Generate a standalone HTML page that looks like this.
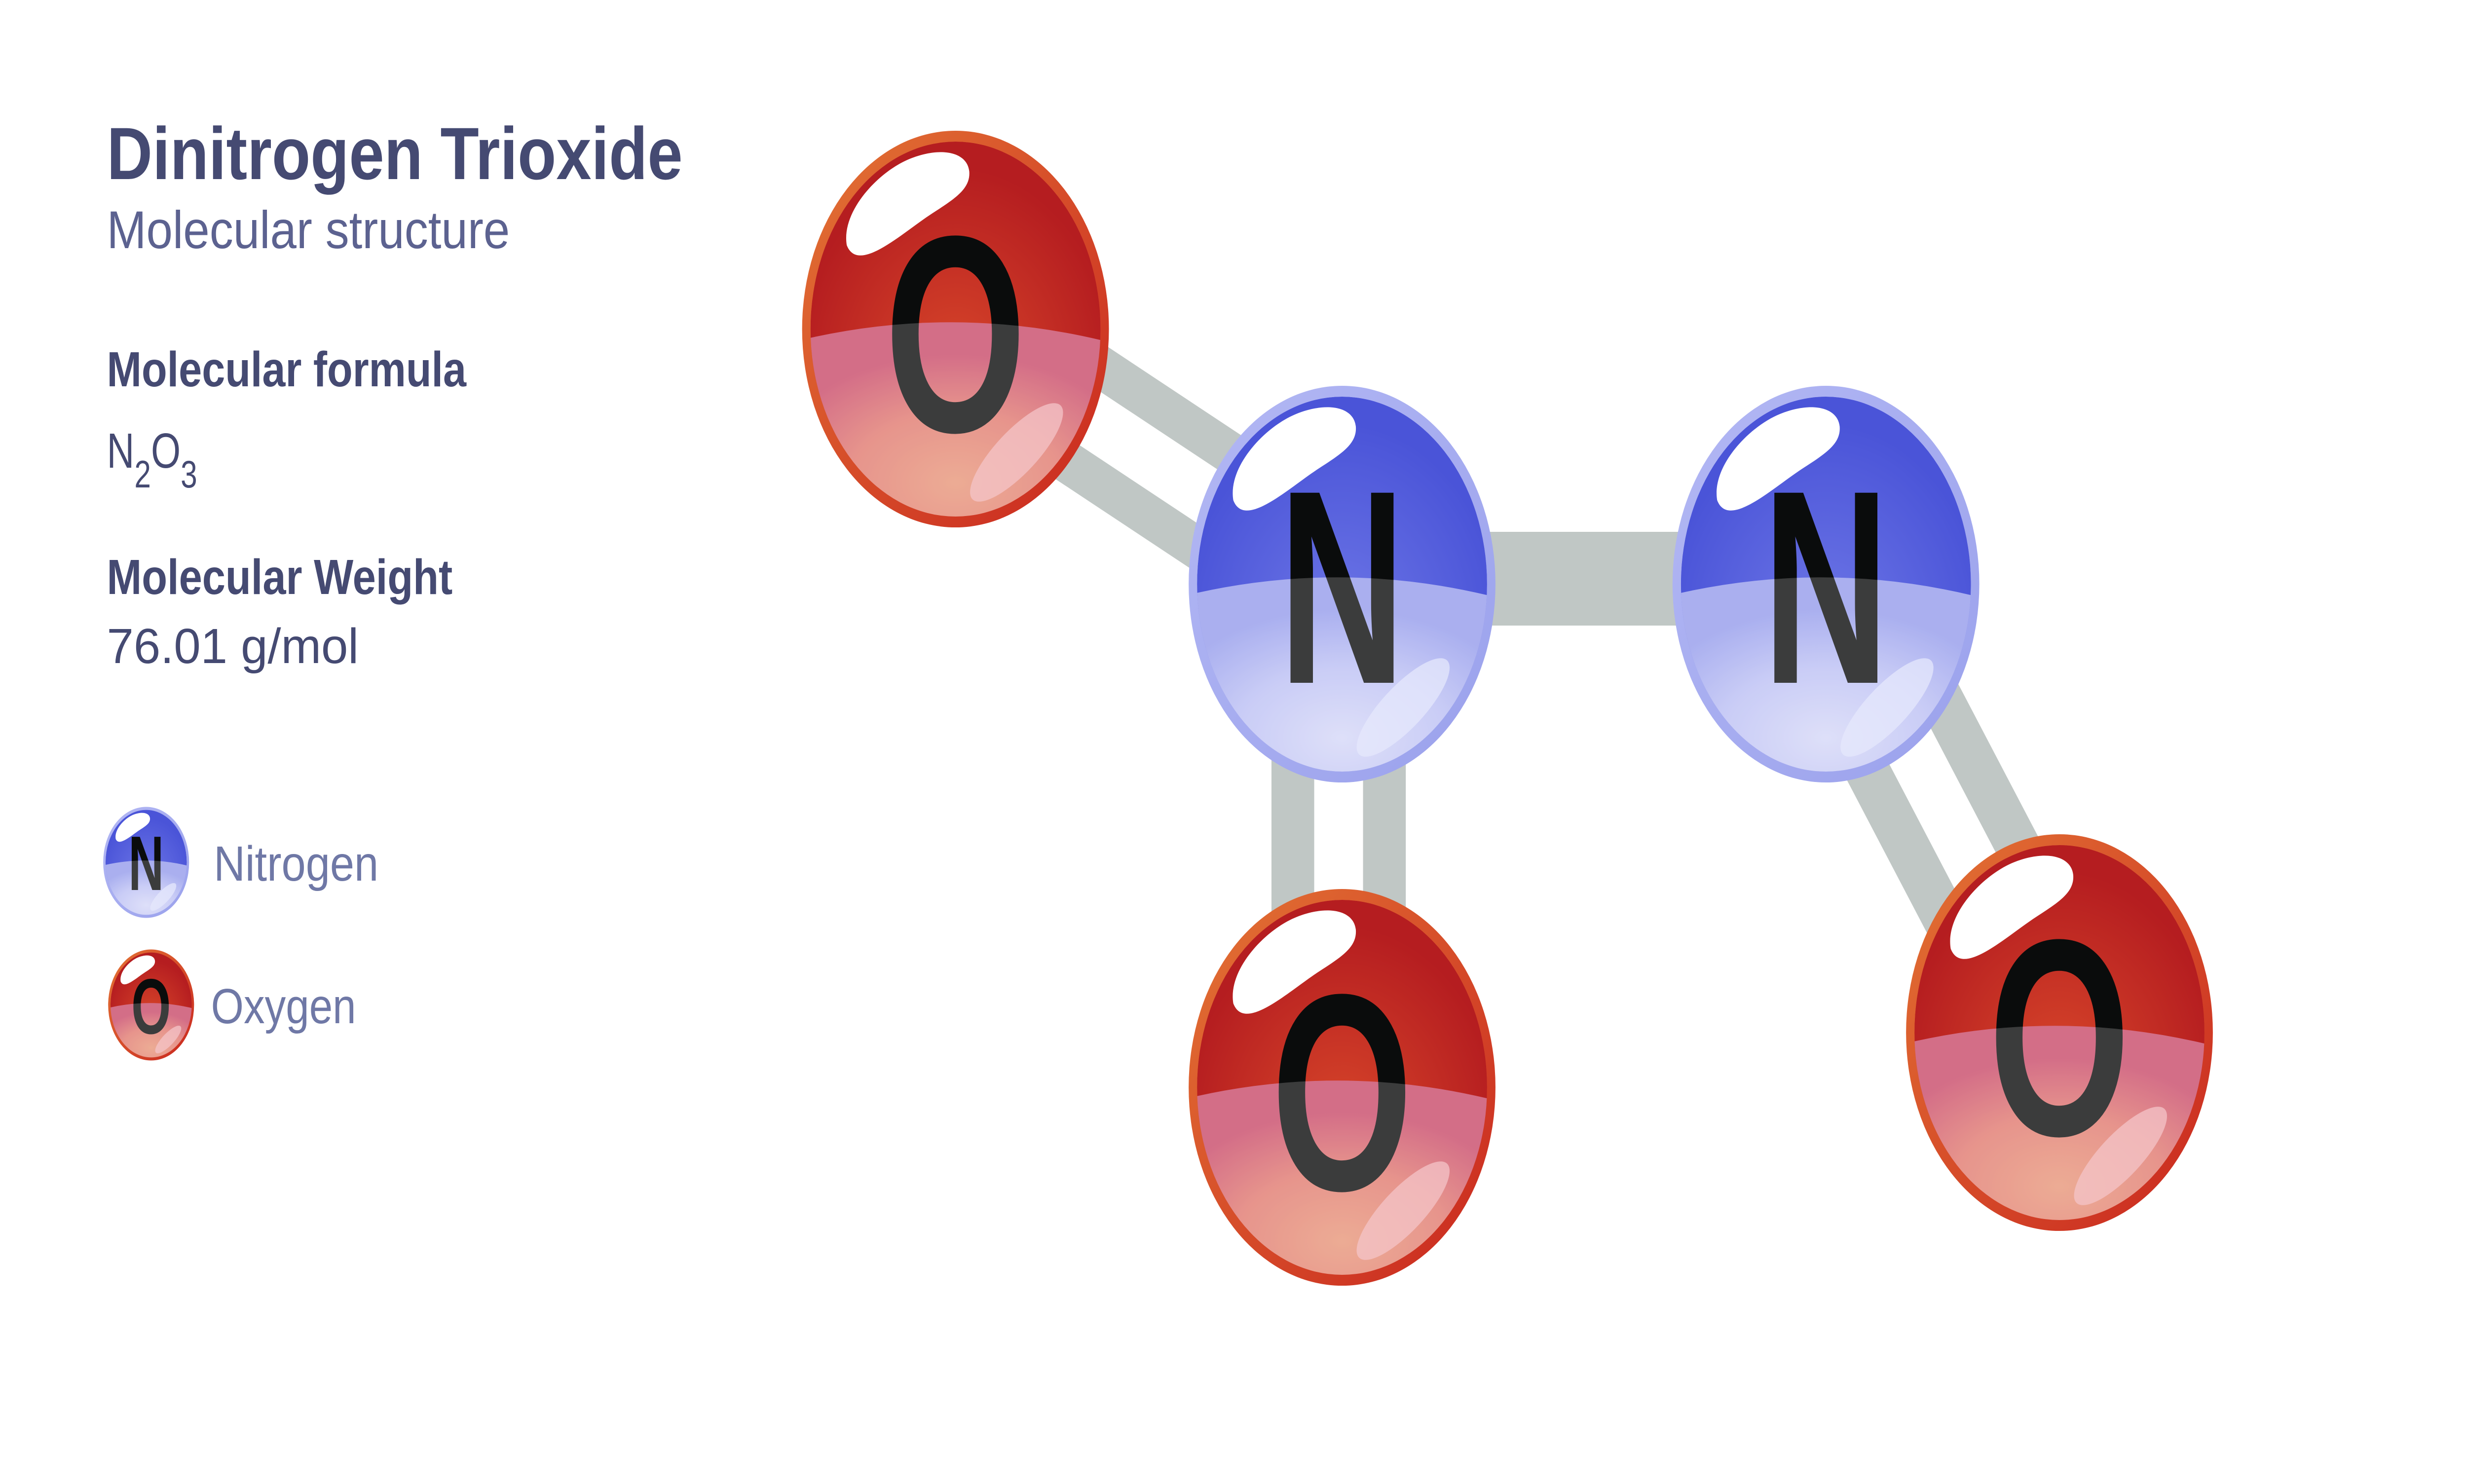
<!DOCTYPE html>
<html><head><meta charset="utf-8"><style>
html,body{margin:0;padding:0;background:#fff;width:100%;height:100%;overflow:hidden}
svg{display:block;width:100vw;height:100vh}
</style></head><body>
<svg viewBox="0 0 6465 3008" preserveAspectRatio="none" xmlns="http://www.w3.org/2000/svg">
<defs>
<linearGradient id="oRing" x1="0" y1="0" x2="1" y2="1"><stop offset="0" stop-color="#e37434"/><stop offset="1" stop-color="#c9261f"/></linearGradient>
<radialGradient id="oTop" cx="0.5" cy="0.62" r="0.55"><stop offset="0" stop-color="#d8472a"/><stop offset="1" stop-color="#b51d20"/></radialGradient>
<radialGradient id="oLow" cx="0.5" cy="0.75" r="0.6"><stop offset="0" stop-color="#e8977a"/><stop offset="0.55" stop-color="#e17a70"/><stop offset="1" stop-color="#c94a6a"/></radialGradient>
<linearGradient id="nRing" x1="0" y1="0" x2="1" y2="1"><stop offset="0" stop-color="#b3b8f4"/><stop offset="1" stop-color="#9aa1ec"/></linearGradient>
<radialGradient id="nTop" cx="0.5" cy="0.62" r="0.55"><stop offset="0" stop-color="#6d76e6"/><stop offset="1" stop-color="#4a54d8"/></radialGradient>
<radialGradient id="nLow" cx="0.5" cy="0.75" r="0.6"><stop offset="0" stop-color="#d6d8f8"/><stop offset="0.55" stop-color="#bcc0f4"/><stop offset="1" stop-color="#959cec"/></radialGradient>
<clipPath id="inner"><circle cx="0" cy="0" r="380"/></clipPath>
</defs>

<g stroke="#c0c7c5" stroke-linecap="butt" fill="none">
  <line x1="2551" y1="573" x2="3565" y2="1093" stroke-width="90"/>
  <line x1="2455" y1="761" x2="3469" y2="1281" stroke-width="90"/>
  <line x1="3517" y1="1173" x2="4785" y2="1173" stroke-width="190"/>
  <line x1="3388" y1="1184" x2="3388" y2="2204" stroke-width="112"/>
  <line x1="3628" y1="1184" x2="3628" y2="2204" stroke-width="112"/>
  <line x1="4885" y1="1120" x2="5499" y2="2027" stroke-width="110"/>
  <line x1="4685" y1="1254" x2="5299" y2="2161" stroke-width="110"/>
</g>

<g transform="translate(2504,667)">
  <circle r="402" fill="url(#oRing)"/>
  <g clip-path="url(#inner)">
    <circle r="380" fill="url(#oTop)"/>
    <path d="M-420,25 Q0,-55 420,30 L420,420 L-420,420 Z" fill="url(#oLow)"/>
    <text x="0" y="207" text-anchor="middle" font-family="Liberation Sans, sans-serif" font-weight="bold" font-size="568" fill="#0a0c0c" transform="scale(0.84,1)">O</text>
    <path d="M-420,25 Q0,-55 420,30 L420,420 L-420,420 Z" fill="#ffffff" opacity="0.2"/>
    <path d="M-285,-170 C-300,-240 -200,-320 -120,-345 C-40,-370 30,-360 36,-320 C40,-285 0,-265 -60,-235 C-140,-195 -255,-110 -285,-170 Z" fill="#fff"/>
    <ellipse cx="160" cy="250" rx="150" ry="48" transform="rotate(-38 160 250)" fill="#f4c4c8" opacity="0.75"/>
  </g>
</g>
<g transform="translate(3517,2204)">
  <circle r="402" fill="url(#oRing)"/>
  <g clip-path="url(#inner)">
    <circle r="380" fill="url(#oTop)"/>
    <path d="M-420,25 Q0,-55 420,30 L420,420 L-420,420 Z" fill="url(#oLow)"/>
    <text x="0" y="207" text-anchor="middle" font-family="Liberation Sans, sans-serif" font-weight="bold" font-size="568" fill="#0a0c0c" transform="scale(0.84,1)">O</text>
    <path d="M-420,25 Q0,-55 420,30 L420,420 L-420,420 Z" fill="#ffffff" opacity="0.2"/>
    <path d="M-285,-170 C-300,-240 -200,-320 -120,-345 C-40,-370 30,-360 36,-320 C40,-285 0,-265 -60,-235 C-140,-195 -255,-110 -285,-170 Z" fill="#fff"/>
    <ellipse cx="160" cy="250" rx="150" ry="48" transform="rotate(-38 160 250)" fill="#f4c4c8" opacity="0.75"/>
  </g>
</g>
<g transform="translate(5397,2093)">
  <circle r="402" fill="url(#oRing)"/>
  <g clip-path="url(#inner)">
    <circle r="380" fill="url(#oTop)"/>
    <path d="M-420,25 Q0,-55 420,30 L420,420 L-420,420 Z" fill="url(#oLow)"/>
    <text x="0" y="207" text-anchor="middle" font-family="Liberation Sans, sans-serif" font-weight="bold" font-size="568" fill="#0a0c0c" transform="scale(0.84,1)">O</text>
    <path d="M-420,25 Q0,-55 420,30 L420,420 L-420,420 Z" fill="#ffffff" opacity="0.2"/>
    <path d="M-285,-170 C-300,-240 -200,-320 -120,-345 C-40,-370 30,-360 36,-320 C40,-285 0,-265 -60,-235 C-140,-195 -255,-110 -285,-170 Z" fill="#fff"/>
    <ellipse cx="160" cy="250" rx="150" ry="48" transform="rotate(-38 160 250)" fill="#f4c4c8" opacity="0.75"/>
  </g>
</g>

<g transform="translate(3517,1184)">
  <circle r="402" fill="url(#nRing)"/>
  <g clip-path="url(#inner)">
    <circle r="380" fill="url(#nTop)"/>
    <path d="M-420,25 Q0,-55 420,30 L420,420 L-420,420 Z" fill="url(#nLow)"/>
    <text x="0" y="200" text-anchor="middle" font-family="Liberation Sans, sans-serif" font-weight="bold" font-size="560" fill="#0a0c0c" transform="scale(0.82,1)">N</text>
    <path d="M-420,25 Q0,-55 420,30 L420,420 L-420,420 Z" fill="#ffffff" opacity="0.2"/>
    <path d="M-285,-170 C-300,-240 -200,-320 -120,-345 C-40,-370 30,-360 36,-320 C40,-285 0,-265 -60,-235 C-140,-195 -255,-110 -285,-170 Z" fill="#fff"/>
    <ellipse cx="160" cy="250" rx="150" ry="48" transform="rotate(-38 160 250)" fill="#e6e8fc" opacity="0.75"/>
  </g>
</g>
<g transform="translate(4785,1184)">
  <circle r="402" fill="url(#nRing)"/>
  <g clip-path="url(#inner)">
    <circle r="380" fill="url(#nTop)"/>
    <path d="M-420,25 Q0,-55 420,30 L420,420 L-420,420 Z" fill="url(#nLow)"/>
    <text x="0" y="200" text-anchor="middle" font-family="Liberation Sans, sans-serif" font-weight="bold" font-size="560" fill="#0a0c0c" transform="scale(0.82,1)">N</text>
    <path d="M-420,25 Q0,-55 420,30 L420,420 L-420,420 Z" fill="#ffffff" opacity="0.2"/>
    <path d="M-285,-170 C-300,-240 -200,-320 -120,-345 C-40,-370 30,-360 36,-320 C40,-285 0,-265 -60,-235 C-140,-195 -255,-110 -285,-170 Z" fill="#fff"/>
    <ellipse cx="160" cy="250" rx="150" ry="48" transform="rotate(-38 160 250)" fill="#e6e8fc" opacity="0.75"/>
  </g>
</g>

<g transform="translate(383,1748) scale(0.28)">
  <circle r="402" fill="url(#nRing)"/>
  <g clip-path="url(#inner)">
    <circle r="380" fill="url(#nTop)"/>
    <path d="M-420,25 Q0,-55 420,30 L420,420 L-420,420 Z" fill="url(#nLow)"/>
    <text x="0" y="200" text-anchor="middle" font-family="Liberation Sans, sans-serif" font-weight="bold" font-size="560" fill="#0a0c0c" transform="scale(0.82,1)">N</text>
    <path d="M-420,25 Q0,-55 420,30 L420,420 L-420,420 Z" fill="#ffffff" opacity="0.2"/>
    <path d="M-285,-170 C-300,-240 -200,-320 -120,-345 C-40,-370 30,-360 36,-320 C40,-285 0,-265 -60,-235 C-140,-195 -255,-110 -285,-170 Z" fill="#fff"/>
    <ellipse cx="160" cy="250" rx="150" ry="48" transform="rotate(-38 160 250)" fill="#e6e8fc" opacity="0.75"/>
  </g>
</g>
<g transform="translate(396,2037) scale(0.28)">
  <circle r="402" fill="url(#oRing)"/>
  <g clip-path="url(#inner)">
    <circle r="380" fill="url(#oTop)"/>
    <path d="M-420,25 Q0,-55 420,30 L420,420 L-420,420 Z" fill="url(#oLow)"/>
    <text x="0" y="207" text-anchor="middle" font-family="Liberation Sans, sans-serif" font-weight="bold" font-size="568" fill="#0a0c0c" transform="scale(0.84,1)">O</text>
    <path d="M-420,25 Q0,-55 420,30 L420,420 L-420,420 Z" fill="#ffffff" opacity="0.2"/>
    <path d="M-285,-170 C-300,-240 -200,-320 -120,-345 C-40,-370 30,-360 36,-320 C40,-285 0,-265 -60,-235 C-140,-195 -255,-110 -285,-170 Z" fill="#fff"/>
    <ellipse cx="160" cy="250" rx="150" ry="48" transform="rotate(-38 160 250)" fill="#f4c4c8" opacity="0.75"/>
  </g>
</g>

<g font-family="Liberation Sans, sans-serif">
  <text x="280" y="363" font-size="150" font-weight="bold" fill="#454a72" textLength="1509" lengthAdjust="spacingAndGlyphs">Dinitrogen Trioxide</text>
  <text x="280" y="503" font-size="108" fill="#5c6290" textLength="1056" lengthAdjust="spacingAndGlyphs">Molecular structure</text>
  <text x="280" y="783" font-size="100" font-weight="bold" fill="#454a72" textLength="942" lengthAdjust="spacingAndGlyphs">Molecular formula</text>
  <text x="280" y="948" font-size="100" fill="#454a72">N<tspan font-size="78" dy="40">2</tspan><tspan font-size="100" dy="-40">O</tspan><tspan font-size="78" dy="40">3</tspan></text>
  <text x="280" y="1204" font-size="100" font-weight="bold" fill="#454a72" textLength="906" lengthAdjust="spacingAndGlyphs">Molecular Weight</text>
  <text x="280" y="1344" font-size="100" fill="#454a72" textLength="660" lengthAdjust="spacingAndGlyphs">76.01 g/mol</text>
  <text x="560" y="1785" font-size="100" fill="#6f78a6" textLength="432" lengthAdjust="spacingAndGlyphs">Nitrogen</text>
  <text x="553" y="2074" font-size="100" fill="#6f78a6" textLength="380" lengthAdjust="spacingAndGlyphs">Oxygen</text>
</g>
</svg>
</body></html>
